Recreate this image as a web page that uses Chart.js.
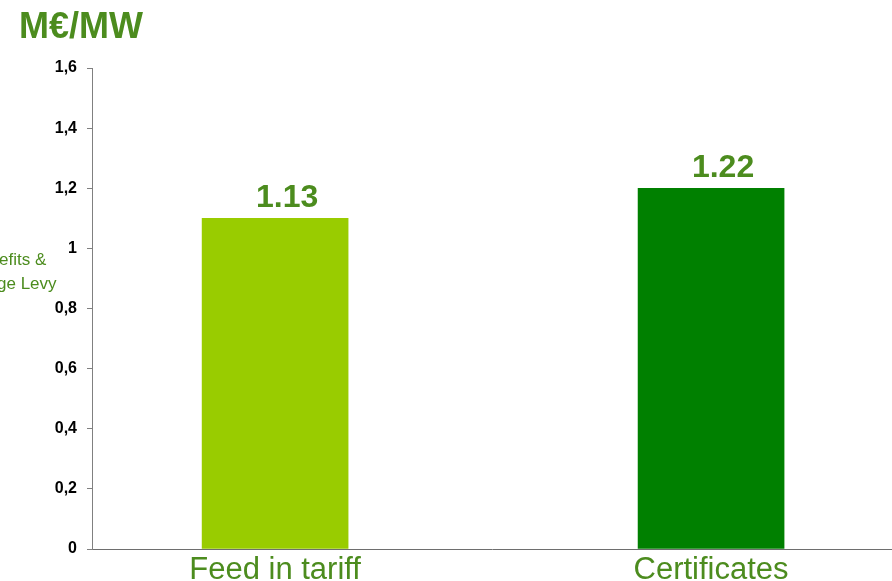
<!DOCTYPE html>
<html>
<head>
<meta charset="utf-8">
<script src="https://cdn.jsdelivr.net/npm/chart.js@4"></script>
<style>
  html, body { margin: 0; padding: 0; background: #fff; overflow: hidden; }
  #wrap { position: relative; width: 892px; height: 581px; }
</style>
</head>
<body>
<div id="wrap"><canvas id="myBarChart" width="892" height="581"></canvas></div>
<script>
var categories = ['Feed in tariff', 'Certificates'];
var barValues = [1.10, 1.20];
var valueLabels = ['1.13', '1.22'];
var barColors = ['#99cc00', '#008000'];
var yTicks = [0, 0.2, 0.4, 0.6, 0.8, 1, 1.2, 1.4, 1.6];

var green = '#4c8c1e';
var font = '"Liberation Sans", Arial, sans-serif';

// title, cut-off side note and value labels
var extras = {
    id: 'extras',
    afterDatasetsDraw: function(chart) {
        var ctx = chart.ctx;
        ctx.save();
        ctx.fillStyle = green;
        ctx.textAlign = 'left';
        ctx.textBaseline = 'alphabetic';
        ctx.font = 'bold 36px ' + font;
        ctx.fillText('M€/MW', 19, 38);

        ctx.font = '17px ' + font;
        ctx.fillText('efits &', -1, 265);
        ctx.fillText('ge Levy', -3, 289);

        ctx.font = 'bold 32px ' + font;
        ctx.textAlign = 'center';
        var meta = chart.getDatasetMeta(0);
        meta.data.forEach(function(bar, i) {
            ctx.fillText(valueLabels[i], bar.x + 12, bar.y - 11);
        });
        ctx.restore();
    }
};

var ctx = document.getElementById('myBarChart').getContext('2d');
var myBarChart = new Chart(ctx, {
    type: 'bar',
    data: {
        datasets: [{
            data: barValues.map(function(v, i) { return { x: i, y: v }; }),
            backgroundColor: barColors,
            barThickness: 146,
            borderWidth: 0
        }]
    },
    options: {
        responsive: false,
        animation: false,
        layout: { padding: { top: 68, right: 0, left: 0, bottom: 0 } },
        plugins: {
            legend: { display: false },
            tooltip: { enabled: false }
        },
        scales: {
            x: {
                type: 'linear',
                offset: false,
                min: -0.42,
                max: 1.415,
                afterBuildTicks: function(scale) {
                    scale.ticks = categories.map(function(c, i) { return { value: i }; });
                },
                afterFit: function(scale) { scale.height = 32; },
                grid: { display: false },
                border: { display: true, color: '#6e6e6e', width: 1 },
                ticks: {
                    padding: -2,
                    autoSkip: false,
                    maxRotation: 0,
                    color: green,
                    font: { family: font, size: 31, lineHeight: 1 },
                    callback: function(v) { return categories[v]; }
                }
            },
            y: {
                min: 0,
                max: 1.6,
                afterBuildTicks: function(scale) {
                    scale.ticks = yTicks.map(function(v) { return { value: v }; });
                },
                afterFit: function(scale) { scale.width = 92; },
                grid: { drawOnChartArea: false, tickLength: 5, color: '#808080' },
                border: { display: true, color: '#808080', width: 1 },
                ticks: {
                    padding: 10,
                    color: '#000',
                    font: { family: font, size: 16, weight: 'bold' },
                    callback: function(v) { return String(Math.round(v * 10) / 10).replace('.', ','); }
                }
            }
        }
    },
    plugins: [extras]
});
</script>
</body>
</html>
